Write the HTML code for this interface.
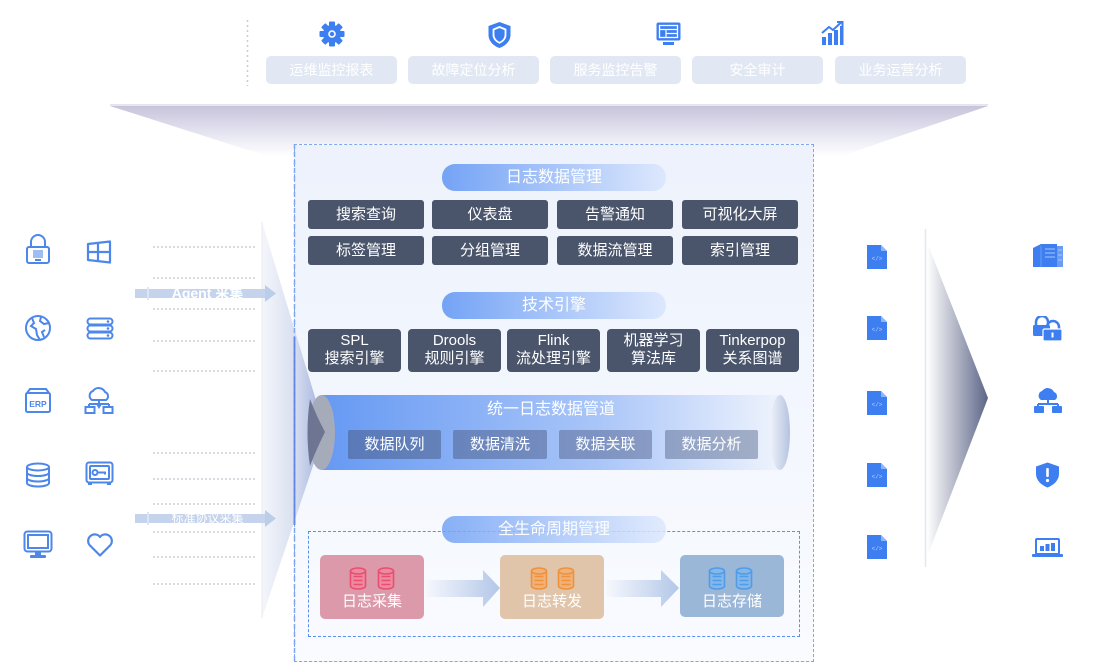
<!DOCTYPE html>
<html><head><meta charset="utf-8">
<style>
*{margin:0;padding:0;box-sizing:border-box}
body{width:1108px;height:663px;background:#fff;position:relative;overflow:hidden;font-family:"Liberation Sans","Noto Sans CJK SC",sans-serif}
.a{position:absolute}
.tb{position:absolute;top:56px;height:28px;width:131px;background:#e1e8f4;border-radius:5px;color:#fff;font-size:14px;text-align:center;line-height:28px}
.pill{position:absolute;left:442px;width:224px;height:27px;border-radius:13px;background:linear-gradient(90deg,#74a3f5,#dde8fd);color:#fff;font-size:16px;text-align:center;line-height:27px}
.g{position:absolute;height:29px;width:116px;background:#4a556b;border-radius:3px;color:#fff;font-size:15px;text-align:center;line-height:29px}
.e{position:absolute;top:329px;height:43px;width:93px;background:#4a556b;border-radius:4px;color:#fff;font-size:15px;text-align:center;line-height:18px;padding-top:3px}
.p{position:absolute;top:430px;height:29px;background:rgba(70,85,125,.5);border-radius:2px;color:#fff;font-size:15px;text-align:center;line-height:29px}
.dl{position:absolute;left:153px;width:102px;height:0;border-top:2px dotted #d9dce3}
.card{position:absolute;top:555px;height:64px;width:104px;border-radius:5px;color:#fff;font-size:15px;text-align:center}
.card span{position:absolute;left:0;right:0;top:38px;line-height:18px}
.card svg{position:absolute;top:12px}
</style></head>
<body>

<!-- background shapes -->
<svg class="a" style="left:0;top:0" width="1108" height="663">
<defs>
<linearGradient id="fun" x1="0" y1="106" x2="0" y2="165" gradientUnits="userSpaceOnUse"><stop offset="0" stop-color="#c8c3da"/><stop offset="0.45" stop-color="#e4e4f0"/><stop offset="0.85" stop-color="#ffffff"/></linearGradient>
<linearGradient id="rw" x1="0" y1="0" x2="1" y2="0"><stop offset="0" stop-color="#ffffff"/><stop offset="1" stop-color="#5c6587"/></linearGradient>
</defs>
<rect x="110" y="104" width="878" height="2" fill="#e6e4ee"/>
<polygon points="110,106 988,106 815,165 295,165" fill="url(#fun)"/>
<line x1="247.5" y1="20" x2="247.5" y2="86" stroke="#c9ccd6" stroke-width="1.5" stroke-dasharray="2,3"/>
<line x1="925.5" y1="229" x2="925.5" y2="567" stroke="#e3e7ef" stroke-width="1.5"/>
<polygon points="927,242 988,398 927,557" fill="url(#rw)"/>
</svg>

<!-- central box -->
<div class="a" style="left:294px;top:144px;width:520px;height:518px;background:linear-gradient(#edf2fc,#f9fbff);border:1.5px dashed #7fa6f0"></div>

<!-- left wedge -->
<svg class="a" style="left:0;top:0" width="1108" height="663">
<defs><linearGradient id="lw" x1="262" y1="0" x2="325" y2="0" gradientUnits="userSpaceOnUse"><stop offset="0" stop-color="#f4f6fb"/><stop offset="0.5" stop-color="#d9e0f0"/><stop offset="1" stop-color="#9daedb"/></linearGradient></defs>
<polygon points="262,222 325,430 262,618" fill="url(#lw)"/>
<line x1="262" y1="222" x2="262" y2="618" stroke="#e8ebf2" stroke-width="1"/>
<line x1="294.5" y1="144" x2="294.5" y2="662" stroke="#7fa6f0" stroke-width="1.5" stroke-dasharray="5,3"/>
<line x1="294.5" y1="337" x2="294.5" y2="525" stroke="#5f88e4" stroke-width="1.8"/>
</svg>

<!-- top icons -->
<svg class="a" style="left:319px;top:21px" width="26" height="26" viewBox="0 0 26 26">
<g fill="#3d7ef0" transform="translate(13 13)">
<rect x="-3" y="-12.5" width="6" height="25" rx="1"/>
<rect x="-3" y="-12.5" width="6" height="25" rx="1" transform="rotate(45)"/>
<rect x="-3" y="-12.5" width="6" height="25" rx="1" transform="rotate(90)"/>
<rect x="-3" y="-12.5" width="6" height="25" rx="1" transform="rotate(135)"/>
<circle r="9"/></g>
<circle cx="13" cy="13" r="3.8" fill="#fff"/><circle cx="13" cy="13" r="2.2" fill="#3d7ef0"/>
</svg>
<svg class="a" style="left:487px;top:21px" width="25" height="28" viewBox="0 0 25 28">
<path d="M12.5 1 L23.5 5 V14 C23.5 20 18.5 25 12.5 27 C6.5 25 1.5 20 1.5 14 V5 Z" fill="#3d7ef0"/>
<path d="M12.5 6 L18.5 8.5 V14 C18.5 17.5 15.8 20.5 12.5 21.8 C9.2 20.5 6.5 17.5 6.5 14 V8.5 Z" fill="none" stroke="#fff" stroke-width="1.8"/>
</svg>
<svg class="a" style="left:656px;top:22px" width="25" height="24" viewBox="0 0 25 24">
<rect x="0.5" y="0.5" width="24" height="18" rx="2" fill="#3d7ef0"/>
<rect x="3.5" y="3.5" width="18" height="12" fill="none" stroke="#fff" stroke-width="1.3"/>
<path d="M3.5 7.5h18M10 7.5v8M10 11.5h11.5" stroke="#fff" stroke-width="1.2"/>
<rect x="7" y="20" width="11" height="3" fill="#3d7ef0"/>
</svg>
<svg class="a" style="left:821px;top:21px" width="23" height="25" viewBox="0 0 23 25">
<g fill="#3d7ef0"><rect x="1" y="16" width="4" height="8"/><rect x="7" y="12" width="4" height="12"/><rect x="13" y="9" width="4" height="15"/><rect x="19" y="5" width="3.5" height="19"/></g>
<path d="M1 12 L8 6 L12 9 L20 1.5" stroke="#3d7ef0" stroke-width="2" fill="none"/><path d="M16 1 H21.5 V6.5" stroke="#3d7ef0" stroke-width="2" fill="none"/>
</svg>

<!-- top buttons -->
<div class="tb" style="left:266px">运维监控报表</div>
<div class="tb" style="left:408px">故障定位分析</div>
<div class="tb" style="left:550px">服务监控告警</div>
<div class="tb" style="left:692px">安全审计</div>
<div class="tb" style="left:835px">业务运营分析</div>

<!-- 日志数据管理 -->
<div class="pill" style="top:164px">日志数据管理</div>
<div class="g" style="left:308px;top:200px">搜索查询</div>
<div class="g" style="left:432px;top:200px">仪表盘</div>
<div class="g" style="left:557px;top:200px">告警通知</div>
<div class="g" style="left:682px;top:200px">可视化大屏</div>
<div class="g" style="left:308px;top:236px">标签管理</div>
<div class="g" style="left:432px;top:236px">分组管理</div>
<div class="g" style="left:557px;top:236px">数据流管理</div>
<div class="g" style="left:682px;top:236px">索引管理</div>

<!-- 技术引擎 -->
<div class="pill" style="top:292px">技术引擎</div>
<div class="e" style="left:308px">SPL<br>搜索引擎</div>
<div class="e" style="left:408px">Drools<br>规则引擎</div>
<div class="e" style="left:507px">Flink<br>流处理引擎</div>
<div class="e" style="left:607px">机器学习<br>算法库</div>
<div class="e" style="left:706px">Tinkerpop<br>关系图谱</div>

<!-- pipeline -->
<svg class="a" style="left:300px;top:390px" width="500" height="85">
<defs>
<linearGradient id="pg" x1="0" x2="1"><stop offset="0" stop-color="#6699f3"/><stop offset="0.6" stop-color="#a9c5f8"/><stop offset="1" stop-color="#eef3fd"/></linearGradient>
<linearGradient id="re" x1="0" x2="1"><stop offset="0" stop-color="#eef2fa"/><stop offset="1" stop-color="#b5c3e0"/></linearGradient>
</defs>
<rect x="22" y="5" width="458" height="75" fill="url(#pg)"/>
<ellipse cx="480" cy="42.5" rx="10" ry="37.5" fill="url(#re)"/>
<ellipse cx="21.5" cy="42.5" rx="13.5" ry="37.5" fill="#a6abba"/>
<path d="M10 9 Q16 25 25 42 Q16 60 10 76 Q5 42 10 9 Z" fill="#6d7593"/>
</svg>
<div class="a" style="left:322px;top:399px;width:458px;text-align:center;color:#fff;font-size:16px;line-height:22px">统一日志数据管道</div>
<div class="p" style="left:348px;width:93px">数据队列</div>
<div class="p" style="left:453px;width:94px;background:rgba(70,85,125,.47)">数据清洗</div>
<div class="p" style="left:559px;width:93px;background:rgba(70,85,125,.44)">数据关联</div>
<div class="p" style="left:665px;width:93px;background:rgba(70,85,125,.42)">数据分析</div>

<!-- lifecycle -->
<div class="a" style="left:308px;top:531px;width:492px;height:106px;border:1.3px dashed #5b8ff0"></div>
<div class="pill" style="top:516px;opacity:.85">全生命周期管理</div>

<svg class="a" style="left:423px;top:568px" width="260" height="40">
<defs>
<linearGradient id="ar" x1="0" x2="1"><stop offset="0" stop-color="#f6f8fd"/><stop offset="1" stop-color="#b3c7e8"/></linearGradient>
</defs>
<polygon points="2,12 60,12 60,2 77,20 60,39 60,29 2,29" fill="url(#ar)"/>
<polygon points="183,12 238,12 238,2 256,20 238,39 238,29 183,29" fill="url(#ar)"/>
</svg>

<div class="card" style="left:320px;background:#dc99a9">
<svg style="left:29px" width="18" height="23" viewBox="0 0 18 23"><g fill="#ee8aa0" stroke="#e74f72" stroke-width="1.6"><path d="M1.5 4v15c0 1.7 3.4 3 7.5 3s7.5-1.3 7.5-3V4"/><ellipse cx="9" cy="4" rx="7.5" ry="3"/></g><path d="M4.5 9.5h9M4.5 13.5h9M4.5 17.5h9" stroke="#e74f72" stroke-width="1.4"/></svg>
<svg style="left:57px" width="18" height="23" viewBox="0 0 18 23"><g fill="#ee8aa0" stroke="#e74f72" stroke-width="1.6"><path d="M1.5 4v15c0 1.7 3.4 3 7.5 3s7.5-1.3 7.5-3V4"/><ellipse cx="9" cy="4" rx="7.5" ry="3"/></g><path d="M4.5 9.5h9M4.5 13.5h9M4.5 17.5h9" stroke="#e74f72" stroke-width="1.4"/></svg>
<span>日志采集</span></div>
<div class="card" style="left:500px;background:#e0c5aa">
<svg style="left:30px" width="18" height="23" viewBox="0 0 18 23"><g fill="#eeb27a" stroke="#f0913c" stroke-width="1.6"><path d="M1.5 4v15c0 1.7 3.4 3 7.5 3s7.5-1.3 7.5-3V4"/><ellipse cx="9" cy="4" rx="7.5" ry="3"/></g><path d="M4.5 9.5h9M4.5 13.5h9M4.5 17.5h9" stroke="#f0913c" stroke-width="1.4"/></svg>
<svg style="left:57px" width="18" height="23" viewBox="0 0 18 23"><g fill="#eeb27a" stroke="#f0913c" stroke-width="1.6"><path d="M1.5 4v15c0 1.7 3.4 3 7.5 3s7.5-1.3 7.5-3V4"/><ellipse cx="9" cy="4" rx="7.5" ry="3"/></g><path d="M4.5 9.5h9M4.5 13.5h9M4.5 17.5h9" stroke="#f0913c" stroke-width="1.4"/></svg>
<span>日志转发</span></div>
<div class="card" style="left:680px;background:#9bb7d8;height:62px">
<svg style="left:28px" width="18" height="23" viewBox="0 0 18 23"><g fill="#85b7e8" stroke="#4f9ce8" stroke-width="1.6"><path d="M1.5 4v15c0 1.7 3.4 3 7.5 3s7.5-1.3 7.5-3V4"/><ellipse cx="9" cy="4" rx="7.5" ry="3"/></g><path d="M4.5 9.5h9M4.5 13.5h9M4.5 17.5h9" stroke="#4f9ce8" stroke-width="1.4"/></svg>
<svg style="left:55px" width="18" height="23" viewBox="0 0 18 23"><g fill="#85b7e8" stroke="#4f9ce8" stroke-width="1.6"><path d="M1.5 4v15c0 1.7 3.4 3 7.5 3s7.5-1.3 7.5-3V4"/><ellipse cx="9" cy="4" rx="7.5" ry="3"/></g><path d="M4.5 9.5h9M4.5 13.5h9M4.5 17.5h9" stroke="#4f9ce8" stroke-width="1.4"/></svg>
<span>日志存储</span></div>

<!-- left dotted lines -->
<div class="dl" style="top:246px"></div>
<div class="dl" style="top:277px"></div>
<div class="dl" style="top:308px"></div>
<div class="dl" style="top:340px"></div>
<div class="dl" style="top:370px"></div>
<div class="dl" style="top:452px"></div>
<div class="dl" style="top:478px"></div>
<div class="dl" style="top:503px"></div>
<div class="dl" style="top:531px"></div>
<div class="dl" style="top:556px"></div>
<div class="dl" style="top:583px"></div>

<!-- left arrows -->
<svg class="a" style="left:134px;top:283px" width="145" height="22">
<rect x="1" y="6" width="131" height="9" fill="#c5d4ec"/><polygon points="131,2 142,10.5 131,19" fill="#bccdea"/>
<rect x="13" y="4" width="2" height="13" fill="#dce5f3"/>
</svg>
<div class="a" style="left:150px;top:284px;width:115px;text-align:center;color:#fff;font-size:14px;line-height:18px;font-weight:bold">Agent 采集</div>
<svg class="a" style="left:134px;top:508px" width="145" height="22">
<rect x="1" y="6" width="131" height="9" fill="#c5d4ec"/><polygon points="131,2 142,10.5 131,19" fill="#bccdea"/>
<rect x="13" y="4" width="2" height="13" fill="#dce5f3"/>
</svg>
<div class="a" style="left:150px;top:510px;width:115px;text-align:center;color:#fff;font-size:12px;line-height:17px">标准协议采集</div>

<!-- left icons -->
<svg class="a" style="left:25px;top:234px" width="26" height="31" viewBox="0 0 26 31"><g fill="none" stroke="#4d87ea" stroke-width="2"><path d="M6 13V8a7 7 0 0 1 14 0v5"/><rect x="2" y="13" width="22" height="16" rx="2"/></g><g fill="#4d87ea"><rect x="8" y="16" width="10" height="8" opacity=".55"/><rect x="10" y="25" width="6" height="2"/></g></svg>
<svg class="a" style="left:86px;top:240px" width="27" height="24" viewBox="0 0 27 24"><path d="M2 4 L24 1.5 V22.5 L2 20 Z M2 12 H24 M12 3 V21" fill="none" stroke="#4d87ea" stroke-width="2.2" stroke-linejoin="round"/></svg>
<svg class="a" style="left:24px;top:314px" width="28" height="28" viewBox="0 0 28 28"><circle cx="14" cy="14" r="12" fill="none" stroke="#4d87ea" stroke-width="2"/><path d="M8 4 L10 9 L7 12 L12 15 L13 21 L16 26 M17 3 L16 7 L20 10 L25 9 M21 16 L18 18 L20 23" fill="none" stroke="#4d87ea" stroke-width="2"/></svg>
<svg class="a" style="left:86px;top:317px" width="28" height="23" viewBox="0 0 28 23"><g fill="none" stroke="#4d87ea" stroke-width="2"><rect x="1.5" y="1.5" width="25" height="6" rx="3"/><rect x="1.5" y="8.5" width="25" height="6" rx="3"/><rect x="1.5" y="15.5" width="25" height="6" rx="3"/></g><g fill="#4d87ea"><circle cx="22" cy="4.5" r="1.3"/><circle cx="22" cy="11.5" r="1.3"/><circle cx="22" cy="18.5" r="1.3"/></g></svg>
<svg class="a" style="left:24px;top:387px" width="28" height="27" viewBox="0 0 28 27"><g fill="none" stroke="#4d87ea" stroke-width="2"><path d="M3 6 L6 2 H22 L25 6"/><rect x="2" y="6" width="24" height="19" rx="1.5"/></g><text x="14" y="20" font-size="8.5" font-weight="bold" fill="#4d87ea" text-anchor="middle" font-family="Liberation Sans, sans-serif">ERP</text></svg>
<svg class="a" style="left:84px;top:387px" width="30" height="28" viewBox="0 0 30 28"><g fill="none" stroke="#4d87ea" stroke-width="2"><path d="M8 13 A5 5 0 0 1 9 4 A7 7 0 0 1 21 5 A4.5 4.5 0 0 1 22 13 Z"/><path d="M15 13 V17 M5 17 H25 M5 17 V20 M25 17 V20"/><rect x="1.5" y="20" width="9" height="6"/><rect x="19.5" y="20" width="9" height="6"/></g><polygon points="12,17 18,17 15,22" fill="#4d87ea"/></svg>
<svg class="a" style="left:25px;top:462px" width="26" height="26" viewBox="0 0 26 26"><g fill="none" stroke="#4d87ea" stroke-width="2"><ellipse cx="13" cy="5" rx="11" ry="3.5"/><path d="M2 5 V21 C2 23 7 24.5 13 24.5 S24 23 24 21 V5 M2 10.5 C2 12.5 7 14 13 14 S24 12.5 24 10.5 M2 16 C2 18 7 19.5 13 19.5 S24 18 24 16"/></g></svg>
<svg class="a" style="left:85px;top:461px" width="29" height="25" viewBox="0 0 29 25"><g fill="none" stroke="#4d87ea" stroke-width="2"><rect x="1.5" y="1.5" width="26" height="20" rx="2.5"/><rect x="5" y="5" width="19" height="13" rx="1"/><circle cx="10" cy="11.5" r="2.5"/><path d="M12.5 11.5 H20 V13.5"/></g><g fill="#4d87ea"><rect x="3" y="21" width="4" height="3"/><rect x="22" y="21" width="4" height="3"/></g></svg>
<svg class="a" style="left:23px;top:530px" width="30" height="29" viewBox="0 0 30 29"><g fill="none" stroke="#4d87ea" stroke-width="2"><rect x="1.5" y="1.5" width="27" height="20" rx="3"/><rect x="5" y="5" width="20" height="13" /></g><g fill="#4d87ea"><rect x="12" y="22" width="6" height="3"/><rect x="7" y="25" width="16" height="3" rx="1"/></g></svg>
<svg class="a" style="left:86px;top:532px" width="28" height="25" viewBox="0 0 28 25"><path d="M14 23.5 L3.5 13 A6.3 6.3 0 0 1 14 5 A6.3 6.3 0 0 1 24.5 13 Z" fill="none" stroke="#4d87ea" stroke-width="2.2" stroke-linejoin="round"/></svg>

<!-- right file icons -->
<svg class="a" style="left:867px;top:245px" width="20" height="24" viewBox="0 0 20 24"><path d="M0 0 H14 L20 6 V24 H0 Z" fill="#3d7ef0"/><path d="M14 0 V6 H20" fill="#8fb5f6"/><text x="10" y="15.5" font-size="6" fill="#b9d0fa" text-anchor="middle" font-family="Liberation Mono, monospace">&lt;/&gt;</text></svg>
<svg class="a" style="left:867px;top:316px" width="20" height="24" viewBox="0 0 20 24"><path d="M0 0 H14 L20 6 V24 H0 Z" fill="#3d7ef0"/><path d="M14 0 V6 H20" fill="#8fb5f6"/><text x="10" y="15.5" font-size="6" fill="#b9d0fa" text-anchor="middle" font-family="Liberation Mono, monospace">&lt;/&gt;</text></svg>
<svg class="a" style="left:867px;top:391px" width="20" height="24" viewBox="0 0 20 24"><path d="M0 0 H14 L20 6 V24 H0 Z" fill="#3d7ef0"/><path d="M14 0 V6 H20" fill="#8fb5f6"/><text x="10" y="15.5" font-size="6" fill="#b9d0fa" text-anchor="middle" font-family="Liberation Mono, monospace">&lt;/&gt;</text></svg>
<svg class="a" style="left:867px;top:463px" width="20" height="24" viewBox="0 0 20 24"><path d="M0 0 H14 L20 6 V24 H0 Z" fill="#3d7ef0"/><path d="M14 0 V6 H20" fill="#8fb5f6"/><text x="10" y="15.5" font-size="6" fill="#b9d0fa" text-anchor="middle" font-family="Liberation Mono, monospace">&lt;/&gt;</text></svg>
<svg class="a" style="left:867px;top:535px" width="20" height="24" viewBox="0 0 20 24"><path d="M0 0 H14 L20 6 V24 H0 Z" fill="#3d7ef0"/><path d="M14 0 V6 H20" fill="#8fb5f6"/><text x="10" y="15.5" font-size="6" fill="#b9d0fa" text-anchor="middle" font-family="Liberation Mono, monospace">&lt;/&gt;</text></svg>

<!-- right icons -->
<svg class="a" style="left:1033px;top:244px" width="30" height="23" viewBox="0 0 30 23"><path d="M0 4 L8 0 H24 V23 H0 Z" fill="#3d7ef0"/><rect x="24" y="2" width="6" height="21" fill="#6a9cf3"/><path d="M12 5 H22 M12 9 H22 M12 13 H22 M25 6 H29 M25 11 H29 M25 16 H29" stroke="#a9c5f8" stroke-width="1"/><path d="M8 2 V23" stroke="#6a9cf3" stroke-width="1"/></svg>
<svg class="a" style="left:1033px;top:316px" width="29" height="25" viewBox="0 0 29 25"><path d="M3 9 V6 A6 6 0 0 1 15 6 V9" fill="none" stroke="#3d7ef0" stroke-width="2.5"/><rect x="0" y="9" width="17" height="11" rx="1.5" fill="#3d7ef0"/><path d="M14 14 V11 A6 6 0 0 1 26 11 V14" fill="none" stroke="#3d7ef0" stroke-width="2.5"/><rect x="10" y="13" width="19" height="12" rx="1.5" fill="#3d7ef0" stroke="#fff" stroke-width="1.2"/><rect x="18.5" y="16.5" width="2" height="5" fill="#fff"/></svg>
<svg class="a" style="left:1034px;top:388px" width="28" height="26" viewBox="0 0 28 26"><path d="M7 12 A5 5 0 0 1 8 3 A7 7 0 0 1 20 4 A4.5 4.5 0 0 1 21 12 Z" fill="#3d7ef0"/><path d="M14 12 V16 M4 16 H24 M4 16 V19 M24 16 V19" stroke="#3d7ef0" stroke-width="2" fill="none"/><rect x="0" y="18" width="10" height="7" rx="1" fill="#3d7ef0"/><rect x="18" y="18" width="10" height="7" rx="1" fill="#3d7ef0"/></svg>
<svg class="a" style="left:1035px;top:462px" width="25" height="26" viewBox="0 0 25 26"><path d="M12.5 0.5 L24 4.5 V12 C24 18 19 23 12.5 25.5 C6 23 1 18 1 12 V4.5 Z" fill="#3d7ef0"/><rect x="11.2" y="6" width="2.6" height="9" rx="1" fill="#fff"/><circle cx="12.5" cy="18.5" r="1.6" fill="#fff"/></svg>
<svg class="a" style="left:1032px;top:538px" width="31" height="20" viewBox="0 0 31 20"><rect x="4" y="1" width="23" height="15" rx="1" fill="none" stroke="#3d7ef0" stroke-width="2"/><rect x="0" y="16" width="31" height="3" rx="1" fill="#3d7ef0"/><g fill="#3d7ef0"><rect x="8" y="8" width="4" height="5"/><rect x="13.5" y="6" width="4" height="7"/><rect x="19" y="5" width="4" height="8"/></g></svg>

</body></html>
